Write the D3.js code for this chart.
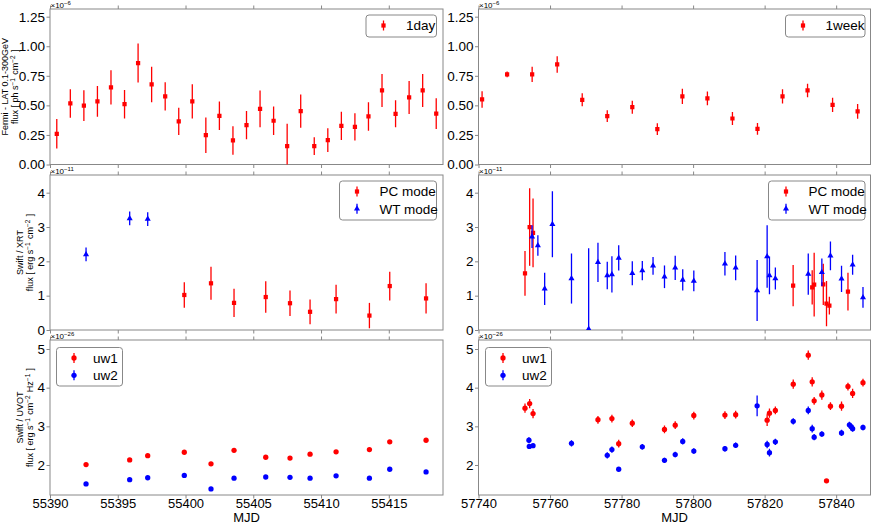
<!DOCTYPE html>
<html>
<head>
<meta charset="utf-8">
<script src="https://cdn.jsdelivr.net/npm/d3@7"></script>
<style>
body { margin: 0; background: #fff; }
svg { font-family: "Liberation Sans", Arial, sans-serif; }
</style>
</head>
<body>
<div id="chart"></div>
<script>
// ---- Fermi-LAT, 1 day bins (x1e-6 ph s-1 cm-2)
var lat1dMjd = [55390.5, 55391.5, 55392.5, 55393.5, 55394.5, 55395.5, 55396.5, 55397.5, 55398.5, 55399.5,
    55400.5, 55401.5, 55402.5, 55403.5, 55404.5, 55405.5, 55406.5, 55407.5, 55408.5, 55409.5,
    55410.5, 55411.5, 55412.5, 55413.5, 55414.5, 55415.5, 55416.5, 55417.5, 55418.5];
var lat1dFlux = [0.26, 0.516, 0.497, 0.533, 0.652, 0.51, 0.858, 0.677, 0.576, 0.364,
    0.533, 0.248, 0.412, 0.203, 0.333, 0.471, 0.37, 0.155, 0.451, 0.155,
    0.206, 0.327, 0.319, 0.406, 0.626, 0.429, 0.567, 0.626, 0.43];
var lat1dErr = [0.125, 0.12, 0.13, 0.13, 0.145, 0.12, 0.165, 0.15, 0.12, 0.115,
    0.145, 0.15, 0.12, 0.12, 0.12, 0.155, 0.12, 0.19, 0.14, 0.075,
    0.1, 0.12, 0.115, 0.12, 0.14, 0.115, 0.14, 0.14, 0.13];

// ---- Fermi-LAT, 1 week bins
var lat1wMjd = [57741, 57748, 57755, 57762, 57769, 57776, 57783, 57790, 57797, 57804, 57811, 57818, 57825, 57832, 57839, 57846];
var lat1wFlux = [0.55, 0.762, 0.762, 0.846, 0.547, 0.409, 0.485, 0.299, 0.576, 0.559, 0.389, 0.302, 0.576, 0.626, 0.505, 0.449];
var lat1wErr = [0.07, 0.025, 0.065, 0.07, 0.055, 0.05, 0.055, 0.05, 0.065, 0.058, 0.054, 0.05, 0.06, 0.057, 0.06, 0.062];

// ---- Swift/XRT 2010 (x1e-11 erg s-1 cm-2)
var xrt10WtMjd = [55392.66, 55395.88, 55397.21];
var xrt10WtFlux = [2.2, 3.25, 3.23];
var xrt10WtErr = [0.2, 0.2, 0.2];
var xrt10PcMjd = [55399.91, 55401.88, 55403.58, 55405.92, 55407.71, 55409.19, 55411.11, 55413.57, 55415.07, 55417.75];
var xrt10PcFlux = [1.02, 1.36, 0.79, 0.96, 0.78, 0.53, 0.9, 0.42, 1.28, 0.92];
var xrt10PcErr = [0.37, 0.48, 0.41, 0.46, 0.37, 0.36, 0.42, 0.37, 0.42, 0.44];

// ---- Swift/XRT 2017
var xrt17PcMjd = [57753.0, 57754.3, 57755.25, 57827.97, 57833.3, 57833.85, 57836.4, 57837.3, 57838.1, 57843.3];
var xrt17PcFlux = [1.65, 3.0, 2.83, 1.29, 1.24, 1.32, 1.33, 0.77, 0.71, 1.12];
var xrt17PcErr = [0.65, 1.13, 1.0, 0.6, 0.5, 0.93, 0.6, 0.66, 0.26, 0.55];
var xrt17WtMjd = [57754.97, 57756.6, 57758.5, 57760.66, 57766.0, 57770.8, 57773.4, 57776.0, 57777.3, 57779.2,
    57783.0, 57785.8, 57788.8, 57792.0, 57795.0, 57797.1, 57800.2, 57808.9, 57811.9, 57817.9,
    57820.7, 57821.35, 57823.0, 57832.2, 57836.0, 57838.4, 57841.5, 57844.6, 57847.5];
var xrt17WtFlux = [2.72, 2.46, 1.2, 3.08, 1.5, 0.03, 1.97, 1.59, 1.62, 2.1,
    1.65, 1.73, 1.87, 1.55, 1.81, 1.46, 1.43, 1.93, 1.81, 1.15,
    2.14, 1.59, 1.5, 1.63, 1.68, 2.16, 1.49, 1.9, 0.95];
var xrt17WtErr = [0.33, 0.3, 0.47, 0.96, 0.73, 2.35, 0.57, 0.4, 0.53, 0.37,
    0.35, 0.28, 0.26, 0.33, 0.35, 0.31, 0.3, 0.34, 0.36, 0.89,
    0.91, 0.55, 0.32, 0.6, 0.4, 0.42, 0.38, 0.29, 0.3];

// ---- Swift/UVOT 2010 (x1e-26 erg s-1 cm-2 Hz-1)
var uvot10Mjd = [55392.66, 55395.88, 55397.21, 55399.91, 55401.88, 55403.58, 55405.92, 55407.71, 55409.19, 55411.11, 55413.57, 55415.07, 55417.75];
var uvot10Uw1 = [2.01, 2.13, 2.24, 2.33, 2.03, 2.38, 2.2, 2.18, 2.28, 2.34, 2.4, 2.6, 2.64];
var uvot10Uw1Err = [0.03, 0.03, 0.03, 0.03, 0.03, 0.03, 0.03, 0.03, 0.03, 0.03, 0.03, 0.03, 0.03];
var uvot10Uw2 = [1.51, 1.62, 1.67, 1.73, 1.38, 1.66, 1.69, 1.68, 1.66, 1.72, 1.66, 1.89, 1.82];
var uvot10Uw2Err = [0.03, 0.03, 0.03, 0.03, 0.03, 0.03, 0.03, 0.03, 0.03, 0.03, 0.03, 0.03, 0.03];

// ---- Swift/UVOT 2017
var uvot17Uw1Mjd = [57753.0, 57754.3, 57755.25, 57773.4, 57777.3, 57779.2, 57783.0, 57792.0, 57795.0, 57800.2,
    57808.9, 57811.9, 57820.7, 57821.35, 57823.0, 57828.0, 57832.2, 57833.3, 57833.85, 57836.0,
    57837.3, 57838.4, 57841.5, 57843.3, 57844.6, 57847.5];
var uvot17Uw1 = [3.47, 3.59, 3.33, 3.17, 3.2, 2.55, 3.08, 2.92, 3.03, 3.28,
    3.29, 3.3, 3.16, 3.34, 3.41, 4.09, 4.84, 4.15, 3.66, 3.81,
    1.59, 3.52, 3.52, 4.03, 3.85, 4.13];
var uvot17Uw1Err = [0.12, 0.12, 0.12, 0.1, 0.1, 0.1, 0.1, 0.1, 0.1, 0.1,
    0.1, 0.1, 0.15, 0.12, 0.1, 0.12, 0.12, 0.12, 0.1, 0.12,
    0.03, 0.1, 0.12, 0.1, 0.12, 0.1];
var uvot17Uw2Mjd = [57754.1, 57754.2, 57755.25, 57766.0, 57776.0, 57777.3, 57779.2, 57785.8, 57792.0, 57795.0,
    57797.1, 57800.2, 57808.9, 57811.9, 57817.9, 57820.7, 57821.35, 57823.0, 57828.0, 57832.2,
    57833.3, 57833.85, 57836.0, 57841.5, 57843.7, 57844.2, 57844.6, 57847.5];
var uvot17Uw2 = [2.64, 2.48, 2.5, 2.56, 2.25, 2.4, 1.89, 2.47, 2.12, 2.27,
    2.61, 2.36, 2.42, 2.51, 3.53, 2.53, 2.32, 2.6, 3.13, 3.41,
    2.94, 2.72, 2.8, 2.83, 3.04, 2.99, 2.94, 2.97];
var uvot17Uw2Err = [0.08, 0.06, 0.05, 0.08, 0.08, 0.08, 0.05, 0.07, 0.07, 0.07,
    0.08, 0.07, 0.07, 0.07, 0.27, 0.1, 0.1, 0.08, 0.08, 0.1,
    0.1, 0.08, 0.07, 0.08, 0.08, 0.08, 0.08, 0.07];

// ---- ticks
var leftTicks = [55390, 55395, 55400, 55405, 55410, 55415];
var rightTicks = [57740, 57760, 57780, 57800, 57820, 57840];
var latTicks = [0, 0.25, 0.5, 0.75, 1.0, 1.25];
var xrtTicks = [0, 1, 2, 3, 4];
var uvotTicks = [2, 3, 4, 5];

var svgwidth = 872;
var svgheight = 525;
var frameColor = "#888";

var svg = d3.select("#chart").append("svg").attr("width", svgwidth).attr("height", svgheight);

var cols = [
    {x0: 50, x1: 443, domain: [55390, 55419], ticks: leftTicks},
    {x0: 478.5, x1: 870.5, domain: [57740, 57849.6], ticks: rightTicks}
];
var rows = [
    {y0: 9, y1: 164.5, domain: [0, 1.315], ticks: latTicks, fmt: d3.format(".2f"), exp: "\u22126"},
    {y0: 175, y1: 330, domain: [0, 4.515], ticks: xrtTicks, fmt: d3.format("d"), exp: "\u221211"},
    {y0: 340, y1: 495, domain: [1.224, 5.233], ticks: uvotTicks, fmt: d3.format("d"), exp: "\u221226"}
];

function zip(xs, ys, es) {
    return xs.map(function(x, i) { return {x: x, y: ys[i], e: es[i]}; });
}

var red = "#ff0000", blue = "#0000ff";
var sq = d3.symbol().type(d3.symbolSquare).size(18);
var tri = d3.symbol().type(d3.symbolTriangle).size(16);
var circ = d3.symbol().type(d3.symbolCircle).size(22);

var panels = [
    {r: 0, c: 0, series: [{data: zip(lat1dMjd, lat1dFlux, lat1dErr), color: red, sym: sq, name: "1day"}],
        legend: {x: 366, y: 15, w: 70.5, h: 22}},
    {r: 0, c: 1, series: [{data: zip(lat1wMjd, lat1wFlux, lat1wErr), color: red, sym: sq, name: "1week"}],
        legend: {x: 785.5, y: 15, w: 79.5, h: 22}},
    {r: 1, c: 0, series: [
        {data: zip(xrt10PcMjd, xrt10PcFlux, xrt10PcErr), color: red, sym: sq, name: "PC mode"},
        {data: zip(xrt10WtMjd, xrt10WtFlux, xrt10WtErr), color: blue, sym: tri, name: "WT mode"}],
        legend: {x: 339.5, y: 181, w: 97, h: 39}},
    {r: 1, c: 1, series: [
        {data: zip(xrt17PcMjd, xrt17PcFlux, xrt17PcErr), color: red, sym: sq, name: "PC mode"},
        {data: zip(xrt17WtMjd, xrt17WtFlux, xrt17WtErr), color: blue, sym: tri, name: "WT mode"}],
        legend: {x: 768.5, y: 181, w: 96.5, h: 39}},
    {r: 2, c: 0, series: [
        {data: zip(uvot10Mjd, uvot10Uw1, uvot10Uw1Err), color: red, sym: circ, name: "uw1"},
        {data: zip(uvot10Mjd, uvot10Uw2, uvot10Uw2Err), color: blue, sym: circ, name: "uw2"}],
        legend: {x: 56.5, y: 347.5, w: 66, h: 38.5}},
    {r: 2, c: 1, series: [
        {data: zip(uvot17Uw1Mjd, uvot17Uw1, uvot17Uw1Err), color: red, sym: circ, name: "uw1"},
        {data: zip(uvot17Uw2Mjd, uvot17Uw2, uvot17Uw2Err), color: blue, sym: circ, name: "uw2"}],
        legend: {x: 485.5, y: 347.5, w: 66, h: 38.5}}
];

// text with superscripts: parts = [[base, sup], ...]
function richText(text, parts, supSize, lift) {
    parts.forEach(function(part) {
        text.append("tspan").text(part[0]);
        if (part[1]) {
            text.append("tspan").attr("dy", -lift).attr("font-size", supSize + "px").text(part[1]);
            text.append("tspan").attr("dy", lift).text("\u200a");
        }
    });
}

panels.forEach(function(p, pi) {
    var col = cols[p.c], row = rows[p.r];
    var x = d3.scaleLinear().domain(col.domain).range([col.x0, col.x1]);
    var y = d3.scaleLinear().domain(row.domain).range([row.y1, row.y0]);

    var clipId = "clip" + pi;
    svg.append("clipPath").attr("id", clipId).append("rect")
        .attr("x", col.x0).attr("y", row.y0).attr("width", col.x1 - col.x0).attr("height", row.y1 - row.y0);

    var g = svg.append("g");

    var bottom = g.append("g").attr("transform", `translate(0, ${row.y1})`)
        .call(d3.axisBottom(x).tickValues(col.ticks).tickSize(3.5).tickPadding(0)
            .tickFormat(p.r == 2 ? d3.format("d") : ""));
    var top = g.append("g").attr("transform", `translate(0, ${row.y0})`)
        .call(d3.axisTop(x).tickValues(col.ticks).tickSize(3.5).tickFormat(""));
    var left = g.append("g").attr("transform", `translate(${col.x0}, 0)`)
        .call(d3.axisLeft(y).tickValues(row.ticks).tickSize(3.5).tickPadding(1.5).tickFormat(row.fmt));
    [bottom, top, left].forEach(function(a) {
        a.select(".domain").remove();
        a.selectAll("line").attr("stroke", frameColor);
        a.selectAll("text").attr("fill", "#000").style("font-size", "13.5px")
            .style("font-family", "'Liberation Sans', Arial, sans-serif");
    });
    bottom.selectAll("text").style("font-size", "13px");

    g.append("rect").attr("x", col.x0).attr("y", row.y0)
        .attr("width", col.x1 - col.x0).attr("height", row.y1 - row.y0)
        .attr("fill", "none").attr("stroke", frameColor).attr("stroke-width", 1);

    // offset label
    var ex = g.append("text").attr("x", col.x0 + 0.5).attr("y", row.y0 - 1.5)
        .attr("font-size", "8px").attr("fill", "#000");
    richText(ex, [["\u00d710", row.exp]], 6, 3);

    var plot = g.append("g").attr("clip-path", `url(#${clipId})`);
    p.series.forEach(function(s) {
        var sg = plot.append("g");
        sg.selectAll("line").data(s.data).enter().append("line")
            .attr("x1", d => x(d.x)).attr("x2", d => x(d.x))
            .attr("y1", d => y(d.y - d.e)).attr("y2", d => y(d.y + d.e))
            .attr("stroke", s.color).attr("stroke-width", 1.3);
        sg.selectAll("path").data(s.data).enter().append("path")
            .attr("d", s.sym)
            .attr("transform", d => `translate(${x(d.x)}, ${y(d.y)})`)
            .attr("fill", s.color);
    });

    // legend
    var L = p.legend;
    var lg = g.append("g");
    lg.append("rect").attr("x", L.x).attr("y", L.y).attr("width", L.w).attr("height", L.h)
        .attr("rx", 3).attr("fill", "#fff").attr("stroke", frameColor).attr("stroke-width", 1);
    var step = p.series.length > 1 ? 17.3 : 0;
    p.series.forEach(function(s, i) {
        var cy = L.y + 10.5 + i * step;
        var mx = L.x + 17.5;
        lg.append("line").attr("x1", mx).attr("x2", mx).attr("y1", cy - 5).attr("y2", cy + 5)
            .attr("stroke", s.color).attr("stroke-width", 1.3);
        lg.append("path").attr("d", s.sym).attr("transform", `translate(${mx}, ${cy})`).attr("fill", s.color);
        lg.append("text").attr("x", mx + (p.r == 2 ? 19 : 22.5)).attr("y", cy + 4.8)
            .attr("font-size", "13.5px").attr("fill", "#000").text(s.name);
    });
});

// y labels (left column only)
var ylabels = [
    {l1: "Fermi - LAT 0.1-300GeV", l2: [["flux [ ph s", "\u22121"], [" cm", "\u22122"], [" ]", null]], x1: 8.4, x2: 18},
    {l1: "Swift / XRT", l2: [["flux [ erg s", "\u22121"], [" cm", "\u22122"], [" ]", null]], x1: 23, x2: 33},
    {l1: "Swift / UVOT", l2: [["flux [ erg s", "\u22121"], [" cm", "\u22122"], [" Hz", "\u22121"], [" ]", null]], x1: 23, x2: 33}
];
ylabels.forEach(function(lb, i) {
    var cy = (rows[i].y0 + rows[i].y1) / 2;
    svg.append("text").attr("transform", `translate(${lb.x1}, ${cy}) rotate(-90)`)
        .attr("text-anchor", "middle").attr("font-size", "9px").attr("fill", "#000").text(lb.l1);
    var t = svg.append("text").attr("transform", `translate(${lb.x2}, ${cy}) rotate(-90)`)
        .attr("text-anchor", "middle").attr("font-size", "9px").attr("fill", "#000");
    richText(t, lb.l2, 6.5, 3.3);
});

cols.forEach(function(col) {
    svg.append("text").attr("x", (col.x0 + col.x1) / 2).attr("y", 522.4)
        .attr("text-anchor", "middle").attr("font-size", "13px").attr("fill", "#000").text("MJD");
});
</script>
</body>
</html>
